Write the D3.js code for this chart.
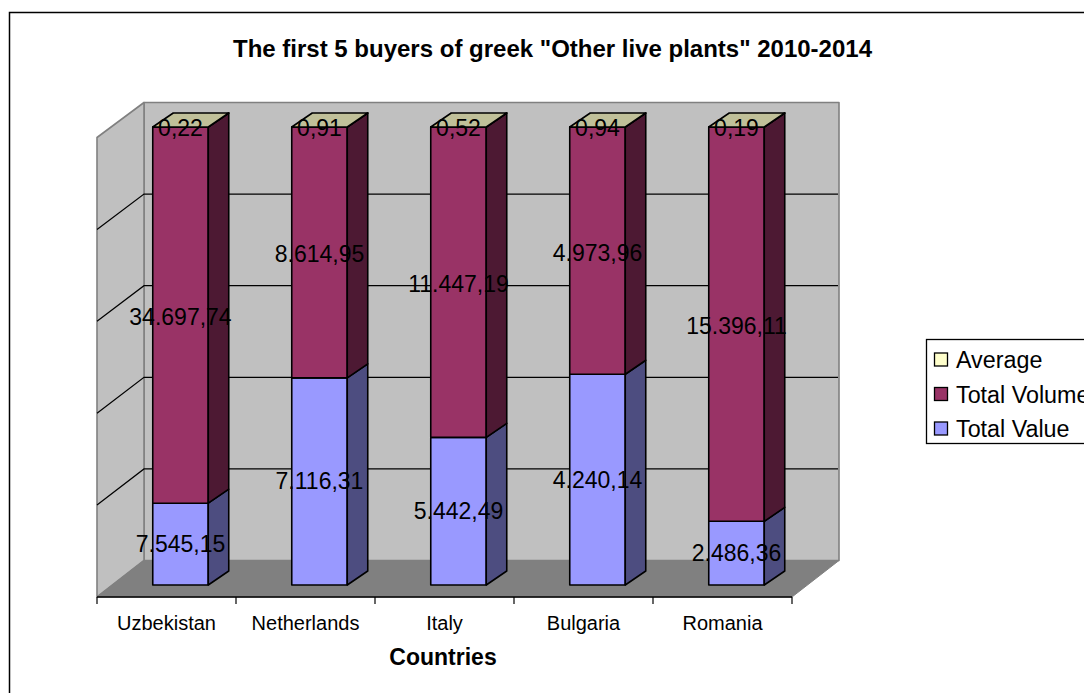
<!DOCTYPE html>
<html><head><meta charset="utf-8">
<script src="https://cdnjs.cloudflare.com/ajax/libs/d3/7.8.5/d3.min.js"></script>
<style>html,body{margin:0;padding:0;background:#fff;overflow:hidden}svg{display:block}text{font-family:"Liberation Sans",Arial,sans-serif;fill:#000}</style>
</head><body><div id="c"></div>
<script>
const categories=["Uzbekistan","Netherlands","Italy","Bulgaria","Romania"];
const totalValue=[7545.15,7116.31,5442.49,4240.14,2486.36];
const totalVolume=[34697.74,8614.95,11447.19,4973.96,15396.11];
const average=[0.22,0.91,0.52,0.94,0.19];
const seriesNames=["Total Value","Total Volume","Average"];
const seriesValues=[totalValue,totalVolume,average];
const legendOrder=["Average","Total Volume","Total Value"];
const title='The first 5 buyers of greek "Other live plants" 2010-2014';
const xTitle="Countries";
const front={"Total Value":"#9999FF","Total Volume":"#993366","Average":"#FFFFCC"};
const side={"Total Value":"#4D4D80","Total Volume":"#4D1933","Average":"#808066"};
const topc={"Total Value":"#7A7ACC","Total Volume":"#7A2952","Average":"#C0C099"};
const W=1084,H=693;
const fmt=v=>{const s=v.toFixed(2).split(".");return s[0].replace(/\B(?=(\d{3})+$)/g,".")+","+s[1];};
const svg=d3.select("#c").append("svg").attr("width",W).attr("height",H);
svg.append("rect").attr("x",9.5).attr("y",12.5).attr("width",1200).attr("height",800).attr("fill","#fff").attr("stroke","#000").attr("stroke-width",1.5);
svg.append("text").attr("x",552.5).attr("y",57).attr("text-anchor","middle").attr("font-size",24).attr("font-weight","bold").text(title);

// plot geometry
const L=97,R=792,DX=47;
const xBand=d3.scaleBand().domain(categories).range([L,R]);
const yFront=d3.scaleLinear().domain([0,1]).range([597,137.5]);
const yBack=d3.scaleLinear().domain([0,1]).range([560.5,102.5]);
const yTicks=[0,.2,.4,.6,.8,1];
const g=svg.append("g");
const line=d3.line();
const poly=(pts,fill,stroke,sw)=>g.append("path").attr("d",line(pts)+"Z").attr("fill",fill).attr("stroke",stroke).attr("stroke-width",sw).attr("stroke-linejoin","round");
// walls
poly([[L+DX,yBack(0)],[R+DX,yBack(0)],[R+DX,yBack(1)],[L+DX,yBack(1)]],"#C0C0C0","#808080",1.6);
poly([[L,yFront(0)],[L+DX,yBack(0)],[L+DX,yBack(1)],[L,yFront(1)]],"#C0C0C0","#808080",1.6);
poly([[L,yFront(0)],[R,yFront(0)],[R+DX,yBack(0)],[L+DX,yBack(0)]],"#808080","#808080",1);
// gridlines
yTicks.slice(1,-1).forEach(t=>{
  g.append("path").attr("d",line([[L,yFront(t)],[L+DX,yBack(t)],[R+DX-1,yBack(t)]])).attr("fill","none").attr("stroke","#000").attr("stroke-width",1.2);
});
// bars
const rows=categories.map((c,i)=>{const o={c};seriesNames.forEach((s,k)=>o[s]=seriesValues[k][i]);return o;});
const stack=d3.stack().keys(seriesNames).offset(d3.stackOffsetExpand)(rows);
const yBar=d3.scaleLinear().domain([0,1]).range([585,127]);
const barW=55.5,dx=20.5,dy=-14,off=14;
const labels=[];
const baseShift={"Total Value":8,"Total Volume":10,"Average":9};
stack.forEach(layer=>{
  const name=layer.key;
  layer.forEach((d,i)=>{
    const cx=xBand(categories[i])+xBand.bandwidth()/2+off;
    const x0=cx-barW/2,x1=cx+barW/2,y0=yBar(d[0]),y1=yBar(d[1]);
    poly([[x0,y0],[x1,y0],[x1,y1],[x0,y1]],front[name],"#000",1.6);
    poly([[x1,y0],[x1+dx,y0+dy],[x1+dx,y1+dy],[x1,y1]],side[name],"#000",1.6);
    if(name==="Average"){
      poly([[x0,y1],[x1,y1],[x1+dx,y1+dy],[x0+dx,y1+dy]],topc[name],"#000",1.6);
    }
    labels.push({name,x:cx,y:(name==="Average"?y1:(y0+y1)/2)+baseShift[name],t:fmt(seriesValues[seriesNames.indexOf(name)][i])});
  });
});
// axis
const axis=svg.append("g");
axis.append("line").attr("x1",L).attr("x2",R).attr("y1",597).attr("y2",597).attr("stroke","#000").attr("stroke-width",1.6);
[...categories.map(c=>xBand(c)),R].forEach(x=>axis.append("line").attr("x1",x).attr("x2",x).attr("y1",597).attr("y2",604).attr("stroke","#000").attr("stroke-width",1.2));
categories.forEach(c=>axis.append("text").attr("x",xBand(c)+xBand.bandwidth()/2).attr("y",630).attr("text-anchor","middle").attr("font-size",20).text(c));
svg.append("text").attr("x",443).attr("y",665).attr("text-anchor","middle").attr("font-size",23).attr("font-weight","bold").text(xTitle);
labels.forEach(l=>svg.append("text").attr("x",l.x).attr("y",l.y).attr("text-anchor","middle").attr("font-size",23).text(l.t));
// legend
const lg=svg.append("g");
lg.append("rect").attr("x",926.5).attr("y",339.5).attr("width",200).attr("height",104).attr("fill","#fff").attr("stroke","#000").attr("stroke-width",1.3);
legendOrder.forEach((n,i)=>{
  const y=360+i*34.5;
  lg.append("rect").attr("x",934.5).attr("y",y-7).attr("width",13).attr("height",13).attr("fill",front[n]).attr("stroke","#000").attr("stroke-width",1.3);
  lg.append("text").attr("x",956).attr("y",y+8).attr("font-size",23.3).text(n);
});
</script></body></html>
